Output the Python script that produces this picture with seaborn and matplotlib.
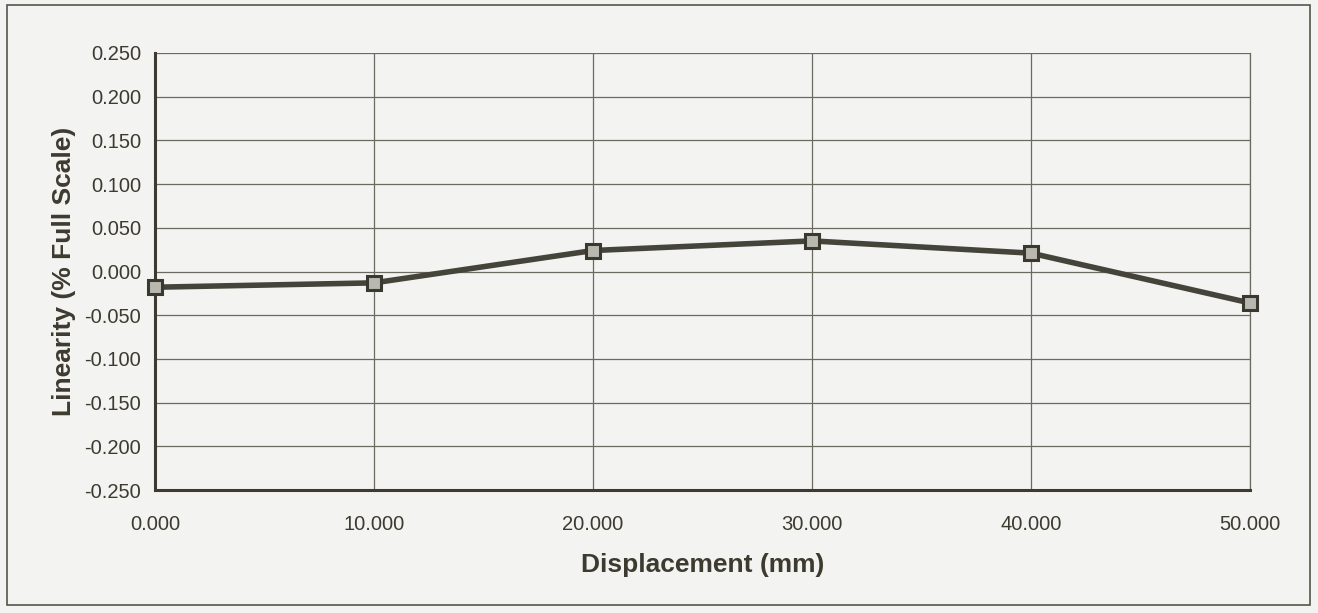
import matplotlib
matplotlib.use("Agg")
import matplotlib.pyplot as plt
import seaborn as sns
import pandas as pd
from matplotlib.patches import Rectangle

# data
displacement = [0, 10, 20, 30, 40, 50]
linearity = [-0.018, -0.013, 0.024, 0.035, 0.021, -0.036]
x_ticks = [0, 10, 20, 30, 40, 50]
y_ticks = [-0.25, -0.2, -0.15, -0.1, -0.05, 0.0, 0.05, 0.1, 0.15, 0.2, 0.25]

df = pd.DataFrame({"Displacement": displacement, "Linearity": linearity})

sns.set_style("white")
plt.rcParams["font.family"] = ["Liberation Sans", "DejaVu Sans"]

ink = "#3d3b30"
paper = "#f3f3f1"
grid_col = "#6b6a60"

fig = plt.figure(figsize=(13.18, 6.13), dpi=100, facecolor=paper)
ax = fig.add_axes([155 / 1318, 1 - 490 / 613, 1095 / 1318, 437 / 613])
ax.set_facecolor(paper)

# frame around the whole chart
fig.patches.append(Rectangle((7 / 1318, 8 / 613), 1303 / 1318, 600 / 613,
                             transform=fig.transFigure, fill=False,
                             edgecolor="#55554a", linewidth=1.2))

sns.lineplot(data=df, x="Displacement", y="Linearity", ax=ax, color="#45443a",
             linewidth=4, marker="s", markersize=10, markerfacecolor="#b8b8b0",
             markeredgecolor="#3a392f", markeredgewidth=2.2, zorder=5)
for ln in ax.get_lines():
    ln.set_clip_on(False)

ax.set_xlim(0, 50)
ax.set_ylim(-0.25, 0.25)
ax.set_xticks(x_ticks)
ax.set_yticks(y_ticks)
ax.set_xticklabels([f"{v:.3f}" for v in x_ticks])
ax.set_yticklabels([f"{v:.3f}" for v in y_ticks])
ax.grid(True, color=grid_col, linewidth=0.9)
ax.set_axisbelow(True)

ax.spines["top"].set_visible(False)
ax.spines["right"].set_color(grid_col)
ax.spines["right"].set_linewidth(0.9)
for s in ["left", "bottom"]:
    ax.spines[s].set_color(ink)
    ax.spines[s].set_linewidth(2.2)

ax.tick_params(axis="y", direction="out", length=7, width=2, color=ink,
               labelsize=14.5, labelcolor=ink, pad=3)
ax.tick_params(axis="x", direction="out", length=0, labelsize=14.5,
               labelcolor=ink, pad=18)

ax.set_xlabel("Displacement (mm)", fontsize=19, fontweight="bold", color=ink,
              labelpad=14)
ax.set_ylabel("Linearity (% Full Scale)", fontsize=19, fontweight="bold",
              color=ink, labelpad=6)

fig.savefig("out.png", dpi=100, facecolor=paper)
